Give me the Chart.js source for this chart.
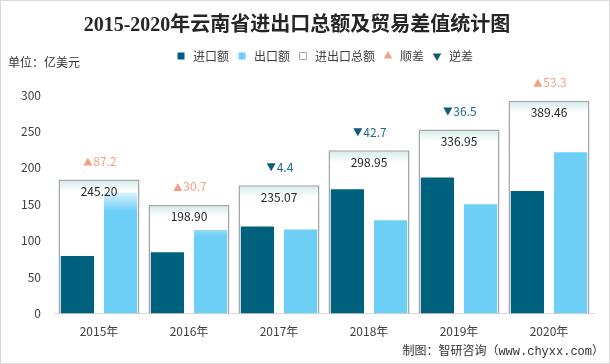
<!DOCTYPE html>
<html>
<head>
<meta charset="utf-8">
<script src="https://cdn.jsdelivr.net/npm/chart.js@4.4.0/dist/chart.umd.min.js"></script>
<style>
  html, body { margin: 0; padding: 0; background: #fff; }
  #wrap { width: 610px; height: 364px; position: relative; }
</style>
</head>
<body>
<div id="wrap"><canvas id="tradeChart"></canvas></div>
<script>
const years = ['2015年', '2016年', '2017年', '2018年', '2019年', '2020年'];
const imports = [79.0, 84.1, 119.7, 170.8, 186.7, 168.1];
const exportsVal = [166.2, 114.8, 115.3, 128.1, 150.2, 221.4];
const totals = [245.20, 198.90, 235.07, 298.95, 336.95, 389.46];
const surplus = [87.2, 30.7, null, null, null, 53.3];
const deficit = [null, null, 4.4, 42.7, 36.5, null];
const yTicks = [0, 50, 100, 150, 200, 250, 300];

const FONT = '"Noto Sans CJK SC", "Liberation Sans", sans-serif';
Chart.defaults.font.family = FONT;
Chart.defaults.color = '#404040';

// gradient on the total bars: light teal at the top fading out
function totalFill(c) {
    const chart = c.chart;
    const y2 = chart.scales.y2;
    if (!y2 || c.type !== 'data' || !chart.chartArea) return 'rgba(255,255,255,0)';
    const top = y2.getPixelForValue(totals[c.dataIndex]);
    const g = chart.ctx.createLinearGradient(0, top, 0, top + 32);
    g.addColorStop(0, 'rgba(208,233,233,1)');
    g.addColorStop(0.4, 'rgba(255,255,255,0.75)');
    g.addColorStop(1, 'rgba(255,255,255,0)');
    return g;
}

const extrasPlugin = {
    id: 'extras',
    afterInit(chart) {
        // extra room under the legend
        const lg = chart.legend;
        if (lg) {
            const fit = lg.fit.bind(lg);
            lg.fit = function () { fit(); this.height += 23; };
        }
    },
    afterDatasetsDraw(chart) {
        const { ctx, scales: { x, y2 } } = chart;
        ctx.save();
        ctx.font = '12px ' + FONT;
        ctx.textBaseline = 'middle';
        years.forEach((yr, i) => {
            const cx = x.getPixelForValue(i);
            const top = y2.getPixelForValue(totals[i]);
            ctx.fillStyle = '#262626';
            ctx.textAlign = 'center';
            ctx.fillText(totals[i].toFixed(2), cx, top + 12);

            const up = surplus[i] != null;
            const txt = (up ? surplus[i] : deficit[i]).toFixed(1);
            const ty = top - 18;
            const tw = ctx.measureText(txt).width;
            const triW = 9;
            const start = cx - (triW + 1 + tw) / 2 + 1;
            ctx.fillStyle = up ? '#f3a08a' : '#0f5a77';
            ctx.beginPath();
            if (up) {
                ctx.moveTo(start, ty + 4); ctx.lineTo(start + triW, ty + 4); ctx.lineTo(start + triW / 2, ty - 4);
            } else {
                ctx.moveTo(start, ty - 4); ctx.lineTo(start + triW, ty - 4); ctx.lineTo(start + triW / 2, ty + 4);
            }
            ctx.closePath();
            ctx.fill();
            ctx.fillStyle = up ? '#f3a08a' : '#1b6b8c';
            ctx.textAlign = 'left';
            ctx.fillText(txt, start + triW + 1, ty);
        });
        ctx.restore();
    },
    afterDraw(chart) {
        const ctx = chart.ctx;
        ctx.save();
        ctx.font = '12px ' + FONT;
        ctx.fillStyle = '#333';
        ctx.textBaseline = 'middle';
        ctx.textAlign = 'left';
        ctx.fillText('单位：亿美元', 8, 62);
        ctx.textAlign = 'right';
        ctx.font = '12px "Liberation Mono", "Noto Sans CJK SC", monospace';
        ctx.fillText('制图：智研咨询（www.chyxx.com）', 604, 352);
        ctx.strokeStyle = '#d9d9d9';
        ctx.lineWidth = 1;
        ctx.strokeRect(0.5, 0.5, 609, 363);
        ctx.restore();
    }
};

const ctx = document.getElementById('tradeChart').getContext('2d');
new Chart(ctx, {
    type: 'bar',
    data: {
        labels: years,
        datasets: [{
            label: '进口额',
            data: imports,
            backgroundColor: '#00617f',
            yAxisID: 'y',
            categoryPercentage: 0.96,
            barPercentage: 0.77,
            pointStyle: 'rect',
            order: 2
        }, {
            label: '出口额',
            data: exportsVal,
            backgroundColor: '#6dcff6',
            yAxisID: 'y',
            categoryPercentage: 0.96,
            barPercentage: 0.77,
            pointStyle: 'rect',
            order: 2
        }, {
            label: '进出口总额',
            data: totals,
            backgroundColor: totalFill,
            borderColor: '#a6a6a6',
            borderWidth: 1.5,
            yAxisID: 'y2',
            grouped: false,
            categoryPercentage: 0.9,
            barPercentage: 1,
            pointStyle: 'rect',
            order: 1
        }, {
            type: 'line',
            label: '顺差',
            data: surplus,
            yAxisID: 'y2',
            showLine: false,
            pointRadius: 0,
            pointStyle: 'triangle',
            backgroundColor: '#f3a08a',
            borderColor: '#f3a08a',
            order: 3
        }, {
            type: 'line',
            label: '逆差',
            data: deficit,
            yAxisID: 'y2',
            showLine: false,
            pointRadius: 0,
            pointStyle: 'triangle',
            pointRotation: 180,
            backgroundColor: '#0f5a77',
            borderColor: '#0f5a77',
            order: 4
        }]
    },
    options: {
        responsive: true,
        maintainAspectRatio: false,
        animation: false,
        layout: { padding: { left: 0, right: 16, top: 0, bottom: 22 } },
        plugins: {
            title: {
                display: true,
                text: '2015-2020年云南省进出口总额及贸易差值统计图',
                color: '#262626',
                font: { size: 20, weight: 'bold', family: '"Liberation Serif", "Noto Sans CJK SC", serif' },
                padding: { top: 14, bottom: 5 }
            },
            legend: {
                position: 'top',
                fullSize: false,
                labels: {
                    usePointStyle: true,
                    boxHeight: 7,
                    padding: 7,
                    color: '#404040',
                    font: { size: 12 },
                    sort: (a, b) => a.datasetIndex - b.datasetIndex,
                    generateLabels(chart) {
                        const items = Chart.defaults.plugins.legend.labels.generateLabels(chart);
                        items.forEach(it => {
                            const i = it.datasetIndex;
                            if (i === 2) { it.fillStyle = '#ffffff'; it.strokeStyle = '#a6a6a6'; it.lineWidth = 1; }
                            else if (i === 3) { it.fillStyle = '#f3a08a'; it.strokeStyle = '#f3a08a'; it.lineWidth = 0; }
                            else if (i === 4) { it.fillStyle = '#0f5a77'; it.strokeStyle = '#0f5a77'; it.lineWidth = 0; it.rotation = 180; }
                            else { it.lineWidth = 0; }
                        });
                        return items;
                    }
                }
            },
            tooltip: { enabled: false }
        },
        scales: {
            x: {
                grid: { display: false },
                border: { color: '#d9d9d9' },
                ticks: { color: '#404040', font: { size: 12 } }
            },
            y: {
                min: 0,
                max: 300,
                afterFit(scale) { scale.width = 54; },
                afterBuildTicks(scale) { scale.ticks = yTicks.map(v => ({ value: v })); },
                grid: { display: false, drawTicks: false },
                border: { display: false },
                ticks: { color: '#404040', font: { size: 12 }, padding: 13 }
            },
            y2: {
                display: false,
                min: 0,
                max: 400
            }
        }
    },
    plugins: [extrasPlugin]
});
</script>
</body>
</html>
